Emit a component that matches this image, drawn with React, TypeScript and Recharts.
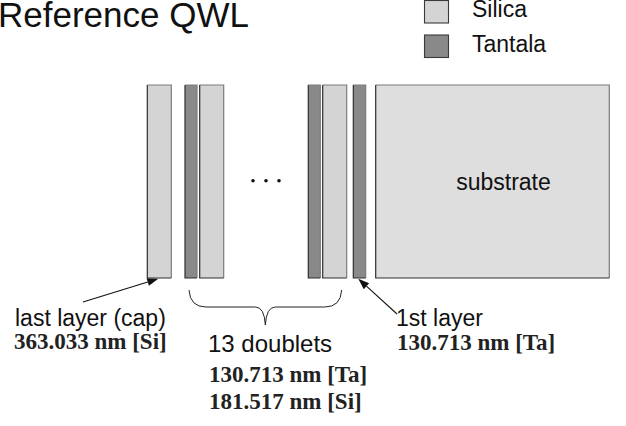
import React from 'react';
import { BarChart, Bar, XAxis, YAxis, Legend, Customized } from 'recharts';

const TITLE = 'Reference QWL';

// Layers from the cap (left) to the substrate (right); widths in drawing units
const layerKeys = ['cap', 'taOuter', 'siOuter', 'taInner', 'siInner', 'first', 'substrate'];
const layerMaterials = ['Silica', 'Tantala', 'Silica', 'Tantala', 'Silica', 'Tantala', 'Substrate'];
const layerWidths = [24, 12, 24, 12, 24, 12.4, 233.6];
const gapsBefore = [147.3, 13.7, 2.7, 84.6, 2.4, 6.6, 10];

const legendNames = ['Silica', 'Tantala'];

const capLabel = ['last layer (cap)', '363.033 nm [Si]'];
const doubletLabel = ['13 doublets', '130.713 nm [Ta]', '181.517 nm [Si]'];
const firstLabel = ['1st layer', '130.713 nm [Ta]'];
const substrateLabel = 'substrate';

const FILL: Record<string, string> = { Silica: '#d4d4d4', Tantala: '#898989', Substrate: '#dedede' };
const SANS = '"Liberation Sans", Arial, sans-serif';
const SERIF = '"Liberation Serif", "Times New Roman", serif';

const TOP = 85;
const BOTTOM = 278.3;

// one row, gap + layer segments stacked left to right
const row: Record<string, number | string> = { name: 'stack' };
const starts: number[] = [];
let acc = 0;
layerKeys.forEach((k, i) => {
  row[`gap${i}`] = gapsBefore[i];
  row[k] = layerWidths[i];
  starts.push(acc + gapsBefore[i]);
  acc += gapsBefore[i] + layerWidths[i];
});
const ends = starts.map((s, i) => s + layerWidths[i]);

const LayerShape = (props: any) => {
  const { x, y, width, height, fill } = props;
  return (
    <g>
      <rect x={x} y={y} width={width} height={height} fill={fill} />
      <path d={`M${x},${y} H${x + width} V${y + height}`} stroke="#7c7c7c" strokeWidth={1.2} fill="none" />
      <path d={`M${x},${y} V${y + height} H${x + width}`} stroke="#2e2e2e" strokeWidth={1.2} fill="none" />
    </g>
  );
};

const SubstrateLabel = (p: any) => (
  <text
    x={p.x + p.width / 2 + 11}
    y={p.y + p.height / 2 + 8}
    textAnchor="middle"
    fontFamily={SANS}
    fontSize={23}
    fill="#111"
  >
    {substrateLabel}
  </text>
);

const Arrow = ({ x1, y1, x2, y2 }: { x1: number; y1: number; x2: number; y2: number }) => {
  const a = Math.atan2(y2 - y1, x2 - x1);
  const len = 11;
  const hw = 4;
  const bx = x2 - len * Math.cos(a);
  const by = y2 - len * Math.sin(a);
  const px = -Math.sin(a) * hw;
  const py = Math.cos(a) * hw;
  return (
    <g>
      <line x1={x1} y1={y1} x2={bx} y2={by} stroke="#111" strokeWidth={1.1} />
      <polygon points={`${x2},${y2} ${bx + px},${by + py} ${bx - px},${by - py}`} fill="#111" />
    </g>
  );
};

const Annotations = () => {
  const bL = starts[1] + 4;
  const bR = ends[4] - 5;
  const bM = (bL + bR) / 2;
  const bY = 307;
  const brace = `M${bL},290 Q${bL + 1},${bY} ${bL + 17},${bY} L${bM - 10},${bY} Q${bM - 1},${bY} ${bM},325 Q${bM + 1},${bY} ${bM + 10},${bY} L${bR - 17},${bY} Q${bR - 1},${bY} ${bR},290`;
  const dotX = (ends[2] + starts[3]) / 2;
  return (
    <g>
      <text x={-2} y={27} fontFamily={SANS} fontSize={35} fill="#111">{TITLE}</text>
      {[-13, 0, 13].map((d) => (
        <circle key={d} cx={dotX + d} cy={180.7} r={1.8} fill="#111" />
      ))}
      <Arrow x1={83} y1={302} x2={starts[0] + 11} y2={BOTTOM + 0.5} />
      <Arrow x1={397} y1={314} x2={starts[5] + 5} y2={BOTTOM + 0.5} />
      <path d={brace} stroke="#222" strokeWidth={1} fill="none" />
      <text x={15} y={326} fontFamily={SANS} fontSize={23} fill="#111">{capLabel[0]}</text>
      <text x={14} y={349} fontFamily={SERIF} fontWeight="bold" fontSize={23} fill="#222">{capLabel[1]}</text>
      <text x={208} y={352} fontFamily={SANS} fontSize={24} fill="#111">{doubletLabel[0]}</text>
      <text x={209} y={382} fontFamily={SERIF} fontWeight="bold" fontSize={23} fill="#222">{doubletLabel[1]}</text>
      <text x={209} y={409} fontFamily={SERIF} fontWeight="bold" fontSize={23} fill="#222">{doubletLabel[2]}</text>
      <text x={396} y={326} fontFamily={SANS} fontSize={23} fill="#111">{firstLabel[0]}</text>
      <text x={397} y={350} fontFamily={SERIF} fontWeight="bold" fontSize={23} fill="#222">{firstLabel[1]}</text>
    </g>
  );
};

const LegendContent = () => (
  <svg width={200} height={62} style={{ overflow: 'visible' }}>
    {legendNames.map((n, i) => (
      <g key={n}>
        <rect x={0.5} y={0.5 + i * 34.5} width={24} height={22.5} fill={FILL[n]} stroke="#3a3a3a" strokeWidth={1.1} />
        <text x={48} y={17 + i * 35} fontFamily={SANS} fontSize={23} fill="#111">{n}</text>
      </g>
    ))}
  </svg>
);

export default function App() {
  return (
    <div style={{ position: 'absolute', left: 0, top: 0, background: '#fff' }}>
      <BarChart
        width={626}
        height={426}
        layout="vertical"
        data={[row]}
        margin={{ top: TOP, right: 0, bottom: 426 - BOTTOM, left: 0 }}
        barCategoryGap={0}
      >
        <XAxis type="number" hide domain={[0, 626]} allowDataOverflow />
        <YAxis type="category" dataKey="name" hide />
        {layerKeys.flatMap((k, i) => [
          <Bar key={`gap${i}`} dataKey={`gap${i}`} stackId="s" fill="transparent" isAnimationActive={false} />,
          <Bar
            key={k}
            dataKey={k}
            stackId="s"
            fill={FILL[layerMaterials[i]]}
            shape={LayerShape}
            label={k === 'substrate' ? SubstrateLabel : undefined}
            isAnimationActive={false}
          />,
        ])}
        <Legend
          verticalAlign="middle"
          content={LegendContent}
          wrapperStyle={{ left: 424, top: 0, width: 200, height: 62, margin: 0 }}
        />
        <Customized component={Annotations} />
      </BarChart>
    </div>
  );
}
